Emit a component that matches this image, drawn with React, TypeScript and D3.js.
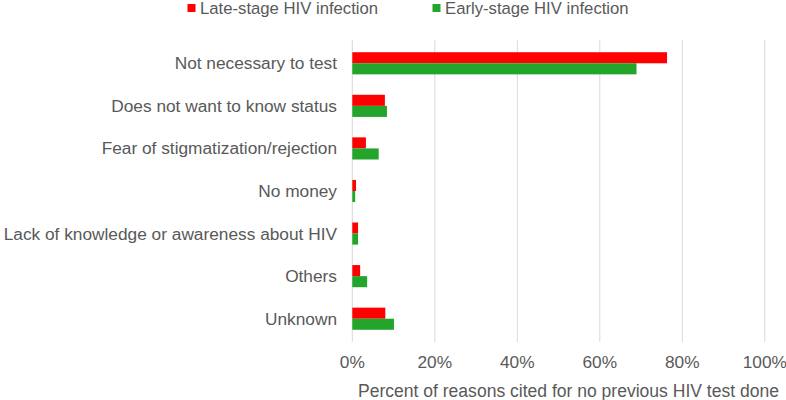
import React, { useEffect, useRef } from 'react';
import * as d3 from 'd3';

const categories = [
  'Not necessary to test',
  'Does not want to know status',
  'Fear of stigmatization/rejection',
  'No money',
  'Lack of knowledge or awareness about HIV',
  'Others',
  'Unknown',
];
const seriesNames = ['Late-stage HIV infection', 'Early-stage HIV infection'];
const lateStage = [76.3, 7.9, 3.3, 0.9, 1.4, 1.9, 8.0];
const earlyStage = [68.9, 8.4, 6.4, 0.7, 1.4, 3.6, 10.1];
const xTicks = [0, 20, 40, 60, 80, 100];
const xTitle = 'Percent of reasons cited for no previous HIV test done';

const COLORS = ['#ff0000', '#22a52a'];
const FONT = 'Liberation Sans, Arial, sans-serif';
const TEXT = '#595959';

export default function App() {
  const svgRef = useRef<SVGSVGElement>(null);

  useEffect(() => {
    if (!svgRef.current) return;
    const svg = d3.select(svgRef.current);
    svg.selectAll('*').remove();

    const width = 786;
    const height = 400;
    svg.attr('width', width).attr('height', height);

    const x = d3.scaleLinear().domain([0, 100]).range([352.3, 764.8]);
    const y = d3.scaleBand<string>()
      .domain(categories)
      .range([42, 340])
      .paddingInner(0.48)
      .paddingOuter(0.24);
    const sub = d3.scaleBand<string>()
      .domain(seriesNames)
      .range([0, y.bandwidth()]);

    // gridlines
    svg.append('g')
      .selectAll('line')
      .data(xTicks)
      .join('line')
      .attr('x1', d => x(d))
      .attr('x2', d => x(d))
      .attr('y1', 40)
      .attr('y2', 342)
      .attr('stroke', '#d9d9d9')
      .attr('stroke-width', 1);

    // bars
    const series = [lateStage, earlyStage];
    series.forEach((vals, si) => {
      svg.append('g')
        .selectAll('rect')
        .data(vals)
        .join('rect')
        .attr('x', x(0))
        .attr('y', (_, i) => (y(categories[i]) as number) + (sub(seriesNames[si]) as number))
        .attr('width', d => x(d) - x(0))
        .attr('height', sub.bandwidth())
        .attr('fill', COLORS[si]);
    });

    // category labels
    svg.append('g')
      .selectAll('text')
      .data(categories)
      .join('text')
      .attr('x', 337)
      .attr('y', d => (y(d) as number) + y.bandwidth() / 2)
      .attr('dy', '0.35em')
      .attr('text-anchor', 'end')
      .attr('font-family', FONT)
      .attr('font-size', 17.3)
      .attr('fill', TEXT)
      .text(d => d);

    // x tick labels
    svg.append('g')
      .selectAll('text')
      .data(xTicks)
      .join('text')
      .attr('x', d => x(d))
      .attr('y', 362)
      .attr('dy', '0.35em')
      .attr('text-anchor', 'middle')
      .attr('font-family', FONT)
      .attr('font-size', 17.3)
      .attr('fill', TEXT)
      .text(d => `${d}%`);

    // x axis title
    svg.append('text')
      .attr('x', 568.5)
      .attr('y', 391)
      .attr('dy', '0.35em')
      .attr('text-anchor', 'middle')
      .attr('font-family', FONT)
      .attr('font-size', 17.55)
      .attr('fill', TEXT)
      .text(xTitle);

    // legend
    const legendX = [187.5, 432.5];
    seriesNames.forEach((name, i) => {
      const g = svg.append('g').attr('transform', `translate(${legendX[i]},0)`);
      g.append('rect')
        .attr('x', 0)
        .attr('y', 4)
        .attr('width', 8)
        .attr('height', 8)
        .attr('fill', COLORS[i]);
      g.append('text')
        .attr('x', 12.5)
        .attr('y', 8.5)
        .attr('dy', '0.35em')
        .attr('font-family', FONT)
        .attr('font-size', 16.7)
        .attr('fill', TEXT)
        .text(name);
    });
  }, []);

  return (
    <div style={{ position: 'absolute', left: 0, top: 0 }}>
      <svg ref={svgRef} style={{ display: 'block' }}></svg>
    </div>
  );
}
